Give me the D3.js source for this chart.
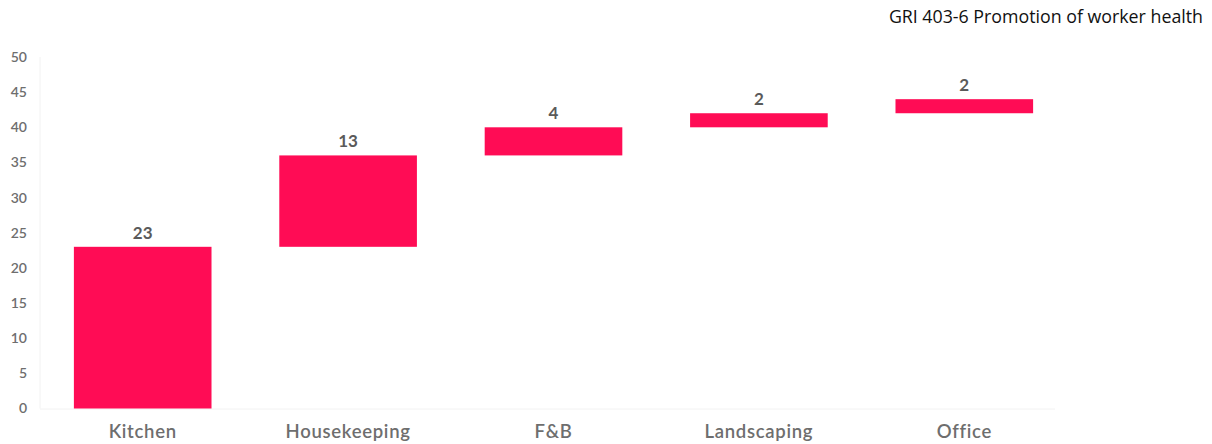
<!DOCTYPE html>
<html><head><meta charset="utf-8">
<script src="https://cdn.jsdelivr.net/npm/d3@7"></script>
<style>body{margin:0;background:#fff;}svg{display:block;}</style>
</head><body>
<svg id="c" width="1212" height="444"></svg>
<script>
const categories = ["Kitchen","Housekeeping","F&B","Landscaping","Office"];
const values = [23,13,4,2,2];
const yTicks = [0,5,10,15,20,25,30,35,40,45,50];
const title = "GRI 403-6 Promotion of worker health";

const svg = d3.select("#c");
const x = d3.scaleBand().domain(categories).range([40,1067]).paddingInner(0.33).paddingOuter(0.165);
const y = d3.scaleLinear().domain([0,50]).range([408.5,57]);

let cum = 0;
const rows = categories.map((c,i)=>{const s=cum; cum+=values[i]; return {c, v:values[i], s, e:cum};});

// faint axes
svg.append("line").attr("x1",40).attr("x2",40).attr("y1",y(50)).attr("y2",y(0)).attr("stroke","#f2f2f2");
svg.append("line").attr("x1",40).attr("x2",1055).attr("y1",y(0)+0.5).attr("y2",y(0)+0.5).attr("stroke","#f2f2f2");

const ya = d3.axisLeft(y).tickValues(yTicks).tickSize(0).tickPadding(0);
const yg = svg.append("g").attr("transform","translate(27,0)").call(ya);
yg.select(".domain").remove();
yg.selectAll("text").attr("font-family","Lato, sans-serif").attr("font-size",14).attr("font-weight","600").attr("fill","#6e6e6e");

svg.selectAll("rect.bar").data(rows).join("rect").attr("class","bar")
  .attr("x",d=>x(d.c)).attr("width",x.bandwidth())
  .attr("y",d=>y(d.e)).attr("height",d=>y(d.s)-y(d.e))
  .attr("fill","#FF0C55");

svg.selectAll("text.val").data(rows).join("text").attr("class","val")
  .attr("x",d=>x(d.c)+x.bandwidth()/2).attr("y",d=>y(d.e)-8)
  .attr("text-anchor","middle").attr("font-family","Lato, sans-serif").attr("font-size",17).attr("font-weight","700").attr("fill","#5a5a5a")
  .text(d=>d.v);

const xa = d3.axisBottom(x).tickSize(0).tickPadding(0);
const xg = svg.append("g").attr("transform","translate(0,425)").call(xa);
xg.select(".domain").remove();
xg.selectAll("text").attr("font-family","Lato, sans-serif").attr("font-size",18.5).attr("font-weight","600")
  .attr("letter-spacing","0.7px").attr("fill","#6e6e6e");

svg.append("text").attr("x",1203).attr("y",23).attr("text-anchor","end")
  .attr("font-family","'Open Sans', sans-serif").attr("font-size",17.8).attr("fill","#111").text(title);
</script>
</body></html>
